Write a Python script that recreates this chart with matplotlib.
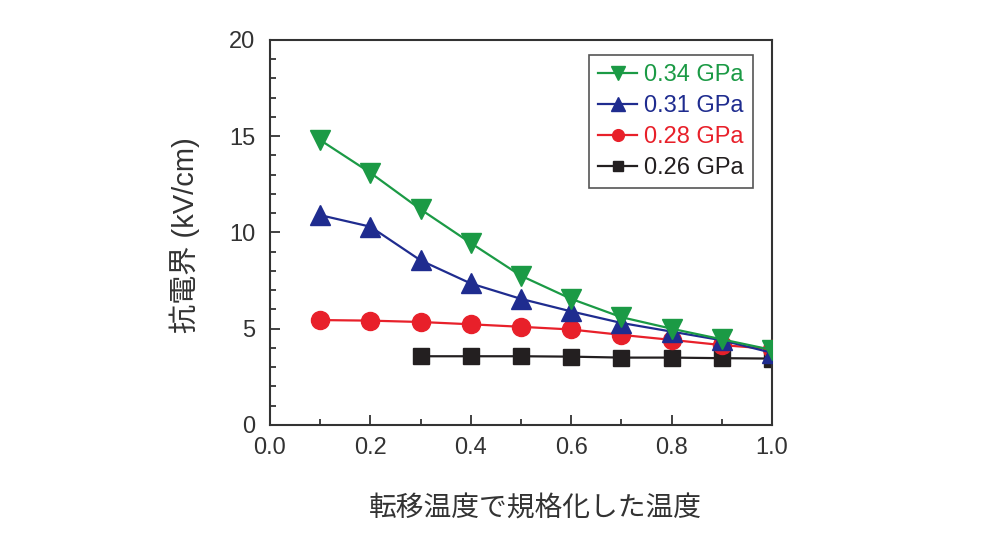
import matplotlib.pyplot as plt
from matplotlib.ticker import MultipleLocator

# Data
x_all = [0.1, 0.2, 0.3, 0.4, 0.5, 0.6, 0.7, 0.8, 0.9, 1.0]
y_034 = [14.8, 13.1, 11.2, 9.45, 7.75, 6.55, 5.6, 5.0, 4.45, 3.9]
y_031 = [10.9, 10.3, 8.55, 7.35, 6.55, 5.9, 5.3, 4.85, 4.4, 3.75]
y_028 = [5.45, 5.42, 5.35, 5.23, 5.1, 4.96, 4.68, 4.42, 4.15, 3.95]
x_026 = [0.3, 0.4, 0.5, 0.6, 0.7, 0.8, 0.9, 1.0]
y_026 = [3.57, 3.57, 3.57, 3.55, 3.5, 3.5, 3.47, 3.45]

labels = ['0.34 GPa', '0.31 GPa', '0.28 GPa', '0.26 GPa']
colors = ['#1b9a45', '#1f2c8f', '#e8202a', '#231f20']
xticks = [0.0, 0.2, 0.4, 0.6, 0.8, 1.0]
yticks = [0, 5, 10, 15, 20]

TEXT = '#333333'
LATIN = ['Liberation Sans', 'DejaVu Sans']
MIXED = ['Liberation Sans', 'Noto Sans CJK JP', 'DejaVu Sans']

fig = plt.figure(figsize=(10, 5.4), dpi=100)
ax = fig.add_axes([0.270, 0.213, 0.502, 0.713])

ax.plot(x_all, y_034, '-v', color=colors[0], ms=15, lw=1.6, label=labels[0], zorder=5)
ax.plot(x_all, y_031, '-^', color=colors[1], ms=14.5, lw=1.6, label=labels[1], zorder=4)
ax.plot(x_all, y_028, '-o', color=colors[2], ms=13, lw=1.6, label=labels[2], zorder=3)
ax.plot(x_026, y_026, '-s', color=colors[3], ms=11.5, lw=1.6, label=labels[3], zorder=2)

ax.set_xlim(0, 1.0)
ax.set_ylim(0, 20)
ax.set_xticks(xticks)
ax.set_xticklabels([f'{v:.1f}' for v in xticks], family=LATIN)
ax.set_yticks(yticks)
ax.set_yticklabels([str(v) for v in yticks], family=LATIN)
ax.xaxis.set_minor_locator(MultipleLocator(0.1))
ax.yaxis.set_minor_locator(MultipleLocator(1))
ax.tick_params(which='both', direction='in', color=TEXT, width=1.3,
               labelsize=17, labelcolor=TEXT)
ax.tick_params(axis='x', pad=9)
ax.tick_params(axis='y', pad=10.5)
ax.tick_params(which='major', length=7)
ax.tick_params(which='minor', length=4)
for s in ax.spines.values():
    s.set_color(TEXT)
    s.set_linewidth(1.5)

fig.text(0.535, 0.057, '転移温度で規格化した温度', family=MIXED, fontsize=20,
         color=TEXT, ha='center', va='center')
fig.text(0.185, 0.565, '抗電界 (kV/cm)', family=MIXED, fontsize=21,
         color=TEXT, ha='center', va='center', rotation=90)

leg = ax.legend(loc='upper right', bbox_to_anchor=(0.963, 0.962),
                prop={'family': LATIN, 'size': 17}, markerscale=0.65,
                handlelength=1.65, handletextpad=0.3, labelspacing=0.38,
                borderpad=0.4, borderaxespad=0, fancybox=False, framealpha=1)
leg.get_frame().set_edgecolor('#555555')
leg.get_frame().set_linewidth(1.2)
for t, c in zip(leg.get_texts(), colors):
    t.set_color(c)

fig.savefig('out.png', dpi=100)
